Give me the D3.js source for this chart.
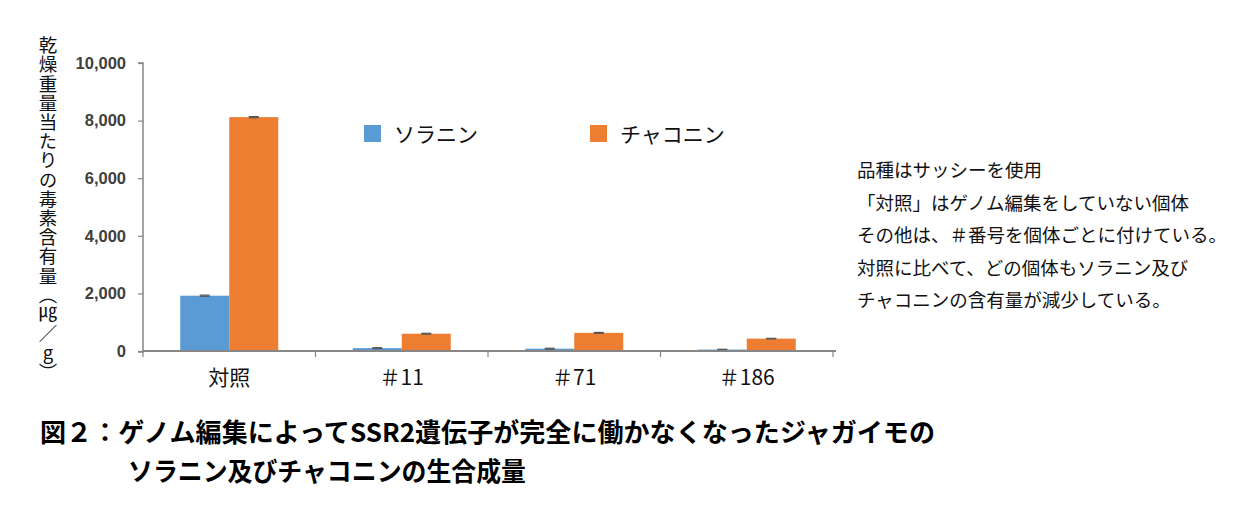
<!DOCTYPE html>
<html><head><meta charset="utf-8">
<script src="https://cdn.jsdelivr.net/npm/d3@7"></script>
<style>
body{margin:0;background:#fff;}
svg{display:block;}
</style></head>
<body>
<svg id="chart" width="1259" height="514"></svg>
<script>
const categories = ["対照", "＃11", "＃71", "＃186"];
const seriesNames = ["ソラニン", "チャコニン"];
const solanine = [1920, 100, 80, 50];
const chaconine = [8120, 600, 630, 430];
const solanineErr = [20, 15, 15, 10];
const chaconineErr = [20, 15, 15, 10];
const yTicks = [0, 2000, 4000, 6000, 8000, 10000];
const yTitle = "乾燥重量当たりの毒素含有量︵㎍／g︶";
const noteLines = [
  "品種はサッシーを使用",
  "「対照」はゲノム編集をしていない個体",
  "その他は、＃番号を個体ごとに付けている。",
  "対照に比べて、どの個体もソラニン及び",
  "チャコニンの含有量が減少している。"
];
const titleLines = [
  "図２：ゲノム編集によってSSR2遺伝子が完全に働かなくなったジャガイモの",
  "ソラニン及びチャコニンの生合成量"
];
const colors = ["#5B9BD5", "#ED7D31"];

const svg = d3.select("#chart");
const jp = "'Noto Sans CJK JP', 'Noto Sans', sans-serif";

const x = d3.scaleBand().domain(categories).range([143, 833]).padding(0);
const xs = d3.scaleBand().domain(seriesNames).range([0, x.bandwidth()]).paddingInner(0).paddingOuter(0.76);
const y = d3.scaleLinear().domain([0, 10000]).range([351, 63]);

const data = categories.map((c, i) => ({
  cat: c,
  vals: [
    {s: seriesNames[0], v: solanine[i], e: solanineErr[i], c: colors[0]},
    {s: seriesNames[1], v: chaconine[i], e: chaconineErr[i], c: colors[1]}
  ]
}));

// bars
const g = svg.append("g");
const groups = g.selectAll("g.grp").data(data).join("g")
  .attr("transform", d => `translate(${x(d.cat)},0)`);
groups.selectAll("rect").data(d => d.vals).join("rect")
  .attr("x", d => xs(d.s))
  .attr("width", xs.bandwidth())
  .attr("y", d => y(d.v))
  .attr("height", d => y(0) - y(d.v))
  .attr("fill", d => d.c);
// error bars
groups.selectAll("g.err").data(d => d.vals).join("g").each(function(d){
  const cx = xs(d.s) + xs.bandwidth()/2;
  const s = d3.select(this);
  s.append("line").attr("x1", cx).attr("x2", cx).attr("y1", y(d.v + d.e)).attr("y2", y(d.v - d.e))
    .attr("stroke", "#555").attr("stroke-width", 1);
  [d.v + d.e, d.v - d.e].forEach(val => {
    s.append("line").attr("x1", cx - 5).attr("x2", cx + 5).attr("y1", y(val)).attr("y2", y(val))
      .attr("stroke", "#555").attr("stroke-width", 1.2);
  });
});

// y axis
const yAxis = d3.axisLeft(y).tickValues(yTicks).tickSize(5).tickPadding(12)
  .tickFormat(d3.format(","));
const ya = svg.append("g").attr("transform", "translate(143,0)").call(yAxis);
ya.select(".domain").attr("stroke", "#868686").attr("stroke-width", 1.5).attr("d", "M-5,63H0V352H-5");
ya.selectAll(".tick line").attr("stroke", "#868686").attr("stroke-width", 1.2);
ya.selectAll(".tick text").attr("fill", "#404040")
  .style("font-family", "'Liberation Sans', Arial, sans-serif")
  .style("font-weight", "bold").style("font-size", "16.5px");

// x axis
const xa = svg.append("g").attr("transform", "translate(0,351)");
xa.append("line").attr("x1", 143).attr("x2", 836).attr("y1", 0).attr("y2", 0)
  .attr("stroke", "#868686").attr("stroke-width", 2);
const bounds = categories.map(c => x(c)).concat([x.range()[1]]);
xa.selectAll("line.tk").data(bounds).join("line").attr("class", "tk")
  .attr("x1", d => d).attr("x2", d => d).attr("y1", 0).attr("y2", 6)
  .attr("stroke", "#868686").attr("stroke-width", 1.2);
xa.selectAll("text").data(categories).join("text")
  .attr("x", d => x(d) + x.bandwidth()/2).attr("y", 34)
  .attr("text-anchor", "middle")
  .style("font-family", jp).style("font-size", "21px").attr("fill", "#111")
  .text(d => d);

// y title (vertical writing, single text)
svg.append("text")
  .attr("x", 48).attr("y", 36)
  .style("writing-mode", "vertical-rl")
  .style("text-orientation", "upright")
  .style("letter-spacing", "0.7px")
  .style("font-family", jp).style("font-size", "18.5px").attr("fill", "#111")
  .text(yTitle);

// legend
const leg = svg.append("g");
const legX = [364, 590];
seriesNames.forEach((s, i) => {
  leg.append("rect").attr("x", legX[i]).attr("y", 125).attr("width", 17).attr("height", 17).attr("fill", colors[i]);
  leg.append("text").attr("x", legX[i] + 30).attr("y", 142)
    .style("font-family", jp).style("font-size", "21px").attr("fill", "#111").text(s);
});

// note
svg.append("g").selectAll("text").data(noteLines).join("text")
  .attr("x", 857).attr("y", (d, i) => 177 + i * 32.5)
  .style("font-family", jp).style("font-size", "18.5px").attr("fill", "#111")
  .text(d => d);

// title
const tl = svg.append("g");
tl.append("text").attr("x", 40).attr("y", 442).attr("textLength", 895).attr("lengthAdjust", "spacingAndGlyphs")
  .style("font-family", jp).style("font-size", "26px").style("font-weight", "bold").attr("fill", "#000")
  .text(titleLines[0]);
tl.append("text").attr("x", 128).attr("y", 481).attr("textLength", 398).attr("lengthAdjust", "spacingAndGlyphs")
  .style("font-family", jp).style("font-size", "26px").style("font-weight", "bold").attr("fill", "#000")
  .text(titleLines[1]);
</script>
</body></html>
